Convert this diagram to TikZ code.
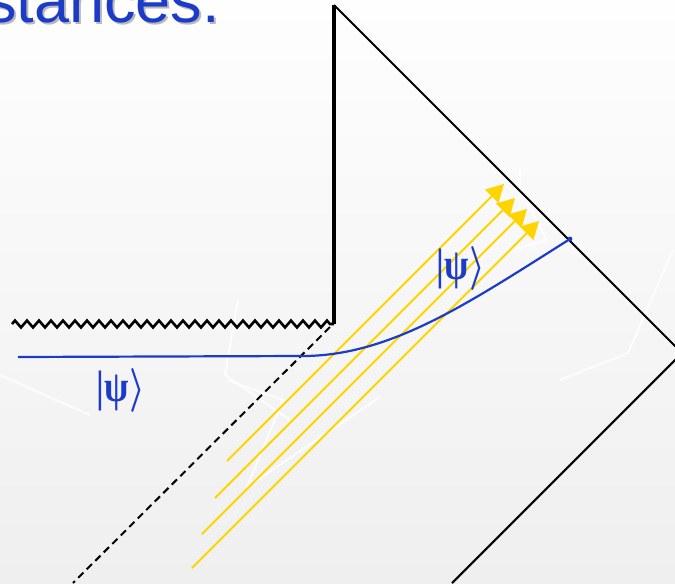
\documentclass[tikz,border=0pt]{standalone}
\usepackage{fontspec}
\setmainfont{Liberation Sans}
\newfontfamily\libserif{Liberation Serif}
\usetikzlibrary{arrows.meta,decorations.pathmorphing}
\definecolor{slideblue}{RGB}{28,60,200}
\definecolor{raygold}{RGB}{255,212,0}
\definecolor{bgtop}{RGB}{254,254,254}
\definecolor{bgbot}{RGB}{239,239,239}
\tikzset{
  edgeline/.style={draw=black,line width=2.1pt*0.75},
  wallline/.style={draw=black,line width=3.4pt*0.75},
  singular/.style={draw=black,line width=2.6pt*0.75,decorate,
    decoration={zigzag,segment length=12pt*0.75,amplitude=3.4pt*0.75}},
  horizon/.style={draw=black,line width=2pt*0.75,dash pattern=on 5.5pt off 3.5pt},
  ray/.style={draw=raygold,line width=2pt*0.75,-{Triangle[length=13pt,width=14pt]}},
  wavefn/.style={draw=slideblue,line width=2.2pt*0.75},
  ketlabel/.style={text=slideblue,inner sep=0pt},
  texture/.style={draw=white,line width=2pt*0.75,opacity=0.8},
}
\newcommand{\ketpsi}{\resizebox*{36pt}{33pt}{{\libserif\bfseries |ψ}$\boldsymbol{\rangle}$}}
\usepackage{amsmath}
\begin{document}
\begin{tikzpicture}[x=0.75pt,y=-0.75pt]
\useasboundingbox (0,0) rectangle (675,583);
\clip (0,0) rectangle (675,583);
% background
\shade[top color=bgtop,bottom color=bgbot] (0,0) rectangle (675,583);
% faint background texture
\draw[texture] (0,375) -- (90,415);
\draw[texture] (238,300) -- (225,375) -- (290,420);
\draw[texture] (227,380) -- (283,400) -- (247,487) -- (380,397);
\draw[texture] (673,250) -- (628,353) -- (560,380);
\draw[texture] (520,170) -- (520,190) -- (547,240) -- (513,250);
% title fragment
\node[anchor=base east,inner sep=0pt,text=gray!55,font=\fontsize{47.25}{50}\selectfont] (titleshadow) at (222,24) {stances:};
\node[anchor=base east,inner sep=0pt,text=slideblue,font=\fontsize{47.25}{50}\selectfont] (title) at (220,22) {stances:};
% geometry points
\coordinate (top) at (334,5);
\coordinate (corner) at (334,324);
\coordinate (wallend) at (12,324);
\coordinate (right) at (682,353);
\coordinate (bottom) at (452,583);
\coordinate (hzstart) at (330,327);
\coordinate (hzend) at (73,583);
% black outline
\draw[edgeline] (top) -- (right) -- (bottom);
\draw[wallline] (corner) -- (top);
\draw[singular] (wallend) -- (corner);
\draw[horizon] (hzstart) -- (hzend);
% yellow rays
\coordinate (r1a) at (227,461); \coordinate (r1b) at (504,184);
\coordinate (r2a) at (215,498); \coordinate (r2b) at (515,198);
\coordinate (r3a) at (202,534); \coordinate (r3b) at (527,209);
\coordinate (r4a) at (192,568); \coordinate (r4b) at (539,221);
\draw[ray] (r1a) -- (r1b);
\draw[ray] (r2a) -- (r2b);
\draw[ray] (r3a) -- (r3b);
\draw[ray] (r4a) -- (r4b);
% blue wave function
\coordinate (w0) at (18,357);
\coordinate (w1) at (300,356);
\coordinate (w2) at (570,239);
\draw[wavefn] (w0) -- (w1) .. controls (390,357) and (470,302) .. (w2);
\fill[slideblue] (w2) circle (2.4pt*0.75);
% labels
\node[ketlabel] (ketin) at (121,390) {\ketpsi};
\node[ketlabel] (ketout) at (461,268) {\ketpsi};
\end{tikzpicture}
\end{document}
